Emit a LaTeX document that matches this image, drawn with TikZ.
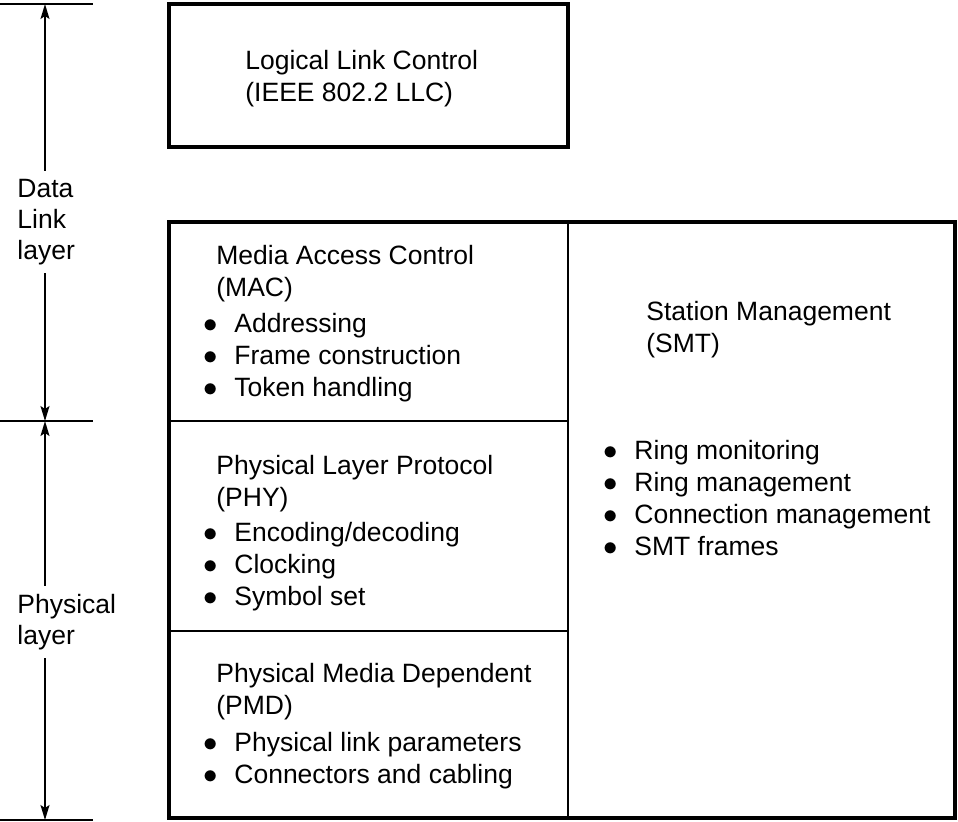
\documentclass[tikz,border=0pt]{standalone}
\usepackage{fontspec}
\setmainfont{Liberation Sans}
\usetikzlibrary{arrows.meta}
\newcommand{\bul}{\makebox[15.5pt][l]{$\bullet$}}
\tikzset{
	lbl/.style={anchor=base west,inner sep=0pt,align=left,font=\fontsize{13.25}{16}\selectfont},
	side/.style={anchor=west,inner xsep=0pt,inner ysep=4pt,align=left,font=\fontsize{13.25}{15.5}\selectfont},
	dim/.style={line width=.75pt,-{Stealth[length=7.5pt,width=4.5pt,inset=1.5pt]}},
	heavy/.style={line width=2pt},
	thin/.style={line width=.6pt}
}
\begin{document}
\begin{tikzpicture}[x=.5pt,y=-.5pt]
	\useasboundingbox (0,0) rectangle (958,821);
	\coordinate (top) at (45,4);
	\coordinate (mid) at (45,421);
	\coordinate (bot) at (45,820);
	\draw[line width=.75pt] (0,4) -- (93,4) (0,421) -- (93,421) (0,820) -- (93,820);
	\node[side] (dll) at (17,222) {Data\\Link\\layer};
	\node[side] (phl) at (17,622) {Physical\\layer};
	\draw[dim] (dll.north -| top) -- (top);
	\draw[dim] (dll.south -| mid) -- (mid);
	\draw[dim] (phl.north -| mid) -- (mid);
	\draw[dim] (phl.south -| bot) -- (bot);
	% boxes
	\draw[heavy] (169,4) rectangle (568,147);
	\draw[heavy] (169,222) rectangle (955,818);
	\draw[thin] (568,222) -- (568,818);
	\draw[thin] (169,421) -- (568,421);
	\draw[thin] (169,631) -- (568,631);
	% base anchor sits on the last line
	\node[lbl] (llc) at (245,101) {Logical Link Control\\(IEEE 802.2 LLC)};
	\node[lbl] (mac) at (216,296) {Media Access Control\\(MAC)};
	\node[lbl] (macl) at (203,396) {\bul Addressing\\\bul Frame construction\\\bul Token handling};
	\node[lbl] (phy) at (216,506) {Physical Layer Protocol\\(PHY)};
	\node[lbl] (phyl) at (203,605) {\bul Encoding/decoding\\\bul Clocking\\\bul Symbol set};
	\node[lbl] (pmd) at (216,714) {Physical Media Dependent\\(PMD)};
	\node[lbl] (pmdl) at (203,783) {\bul Physical link parameters\\\bul Connectors and cabling};
	\node[lbl] (smt) at (646,352) {Station Management\\(SMT)};
	\node[lbl] (smtl) at (603,555) {\bul Ring monitoring\\\bul Ring management\\\bul Connection management\\\bul SMT frames};
\end{tikzpicture}
\end{document}
